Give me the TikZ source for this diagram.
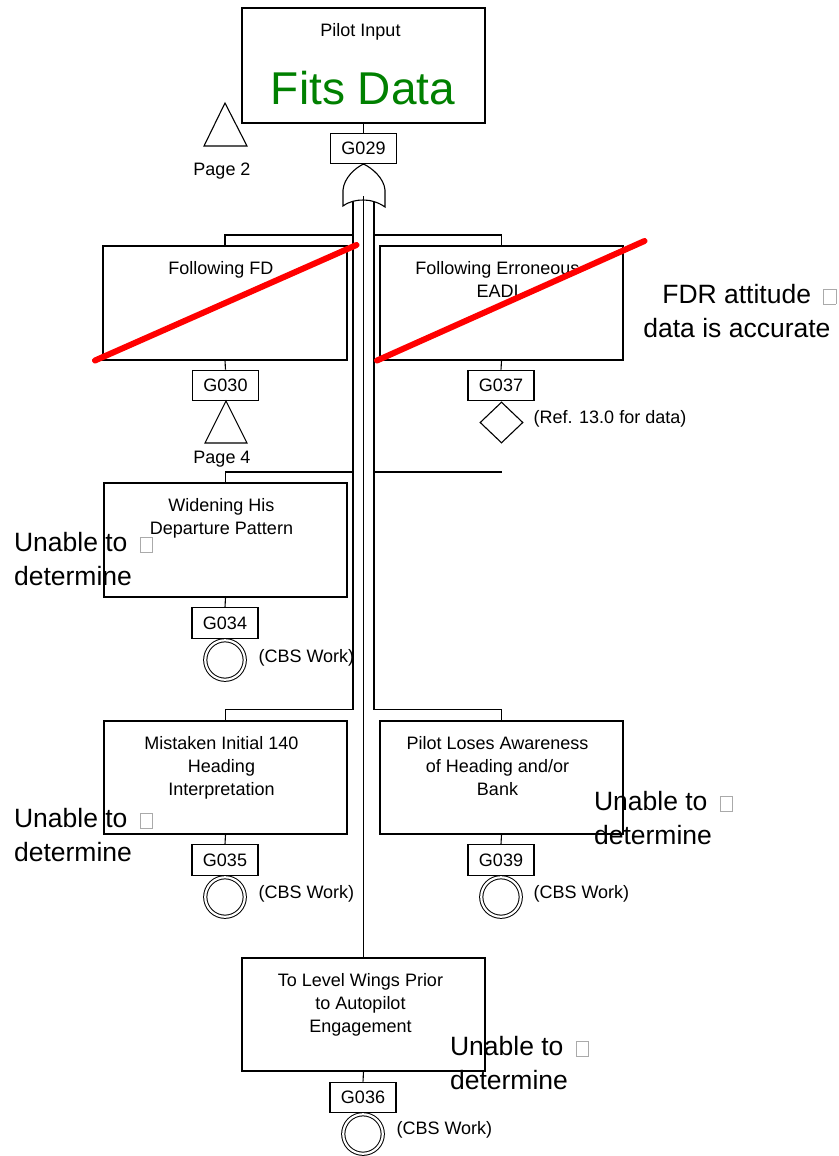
\documentclass[tikz,border=0pt]{standalone}
\usepackage{fontspec}
\setmainfont{Liberation Sans}
\usetikzlibrary{shapes.geometric}
\definecolor{fitgreen}{RGB}{0,128,0}
\definecolor{glyphgray}{RGB}{170,170,170}
% placeholder glyph that the source text prints after a line
\newcommand{\missingglyph}{\hspace{5pt}\smash{\textcolor{glyphgray}{\setlength{\fboxsep}{0pt}\setlength{\fboxrule}{0.9pt}\fbox{\rule{0pt}{14.2pt}\hspace{11.2pt}}}}}

\begin{document}
\begin{tikzpicture}[x=1pt, y=-1pt, line width=1.1pt,
  evt/.style={draw, rectangle, minimum width=243pt, minimum height=114pt, inner sep=0},
  gid/.style={draw, rectangle, minimum width=66pt, minimum height=30.5pt, inner sep=0,
              font=\fontsize{18}{22}\selectfont},
  evtxt/.style={anchor=north, inner sep=0, align=center, font=\fontsize{18}{23}\selectfont},
  small/.style={inner sep=0, font=\fontsize{18}{22}\selectfont},
  note/.style={inner sep=0, align=left, anchor=north west, font=\fontsize{26.5}{34}\selectfont},
  basic/.style={draw, circle, double, double distance=2.2pt, line width=1pt,
                minimum size=39.5pt, inner sep=0},
  strike/.style={draw=red, line width=6pt, line cap=round}]

\useasboundingbox (0,0) rectangle (838,1156);

% ---- top event ----
\node[evt, minimum height=115pt] (top) at (363.5,65.5) {};
\node[evtxt] (topt) at ([xshift=-3pt,yshift=-15pt]top.north) {Pilot Input};
\node[inner sep=0, anchor=base, text=fitgreen, font=\fontsize{46}{50}\selectfont] (fits) at (363,104) {Fits Data};
\node[gid] (g029) at (363.5,148.5) {G029};
\draw (top.south) -- (g029.north);

% transfer from page 2
\coordinate (p2apex) at (225,103);
\draw (p2apex) -- (247,146) -- (204,146) -- cycle;
\node[small, anchor=base] (p2) at (222,175) {Page 2};

% ---- trunks under the OR gate ----
\coordinate (gl) at (353,196);
\coordinate (gm) at (363.5,196);
\coordinate (gr) at (374,196);
\coordinate (jl1) at (353,235);
\coordinate (jl2) at (353,472);
\coordinate (jl3) at (353,709.5);
\coordinate (jr1) at (374,235);
\coordinate (jr2) at (374,472);
\coordinate (jr3) at (374,709.5);
\coordinate (dangle) at (502,472);

\draw (gl) -- (jl3);
\draw (gr) -- (jr3);

% ---- OR gate ----
\draw[fill=white] (343,206) -- (343,190)
  .. controls (344,178) and (355,168) .. (363.5,164)
  .. controls (372,168) and (384,178) .. (385,190)
  -- (385,207)
  .. controls (378,202) and (370,200) .. (363.5,200)
  .. controls (357,200) and (350,201) .. (343,206) -- cycle;

% ---- intermediate events ----
\node[evt, minimum width=244pt] (fd) at (225,303) {};
\node[evtxt] (fdt) at ([xshift=-4pt,yshift=-15pt]fd.north) {Following FD};
\node[evt] (era) at (501.5,303) {};
\node[evtxt] (erat) at ([xshift=-4pt,yshift=-15pt]era.north) {Following Erroneous\\EADI};
\node[evt] (wid) at (225.5,540) {};
\node[evtxt] (widt) at ([xshift=-4pt,yshift=-15pt]wid.north) {Widening His\\Departure Pattern};
\node[evt, minimum height=113pt] (mis) at (225.5,777.5) {};
\node[evtxt] (mist) at ([xshift=-4pt,yshift=-15pt]mis.north) {Mistaken Initial 140\\Heading\\Interpretation};
\node[evt, minimum height=113pt] (plo) at (501.5,777.5) {};
\node[evtxt] (plot) at ([xshift=-4pt,yshift=-15pt]plo.north) {Pilot Loses Awareness\\of Heading and/or\\Bank};
\node[evt, minimum height=113pt] (lvl) at (363.5,1014.5) {};
\node[evtxt] (lvlt) at ([xshift=-3pt,yshift=-15pt]lvl.north) {To Level Wings Prior\\to Autopilot\\Engagement};

\draw (gm) -- (lvl.north);

% branch connectors
\draw (fd.north) |- (jl1);
\draw (wid.north) |- (jl2);
\draw (mis.north) |- (jl3);
\draw (era.north) |- (jr1);
\draw (jr2) -- (dangle);
\draw (plo.north) |- (jr3);

% ---- gate identifiers ----
\node[gid] (g030) at (225.5,385.5) {G030};
\node[gid] (g037) at (501,385.5) {G037};
\node[gid] (g034) at (225,623) {G034};
\node[gid] (g035) at (225,860) {G035};
\node[gid] (g039) at (501,860) {G039};
\node[gid] (g036) at (363,1097.5) {G036};
\draw (fd.south) -- (g030.north);
\draw (era.south) -- (g037.north);
\draw (wid.south) -- (g034.north);
\draw (mis.south) -- (g035.north);
\draw (plo.south) -- (g039.north);
\draw (lvl.south) -- (g036.north);

% transfer to page 4
\coordinate (p4apex) at (226,401);
\draw (p4apex) -- (247,443) -- (205,443) -- cycle;
\node[small, anchor=base] (p4) at (222,463) {Page 4};

% undeveloped event
\node[draw, diamond, minimum width=43pt, minimum height=41pt, inner sep=0] (d37) at (501.5,422.5) {};
\node[small, anchor=base west] (d37t) at (533,423) {(Ref. 13.0 for data)};

% basic events
\node[basic] (b34) at (225,660) {};
\node[basic] (b35) at (225,897) {};
\node[basic] (b39) at (501,897) {};
\node[basic] (b36) at (363,1134) {};
\node[small, anchor=base west] (b34t) at (258,662) {(CBS Work)};
\node[small, anchor=base west] (b35t) at (258,898) {(CBS Work)};
\node[small, anchor=base west] (b39t) at (533,898) {(CBS Work)};
\node[small, anchor=base west] (b36t) at (396,1134) {(CBS Work)};

% ---- annotations ----
\node[note, align=right, anchor=north east] (fdr) at (831,284) {FDR attitude \missingglyph\hspace*{-6pt}\\data is accurate};
\node[note] (u34) at (13.5,532) {Unable to \missingglyph\\determine};
\node[note] (u35) at (13.5,808) {Unable to \missingglyph\\determine};
\node[note] (u39) at (593.5,791) {Unable to \missingglyph\\determine};
\node[note] (u36) at (449.5,1036) {Unable to \missingglyph\\determine};

% struck-out branches
\draw[strike] (95,360.5) -- (356.5,245);
\draw[strike] (377,360.5) -- (644.5,241);
\end{tikzpicture}
\end{document}
